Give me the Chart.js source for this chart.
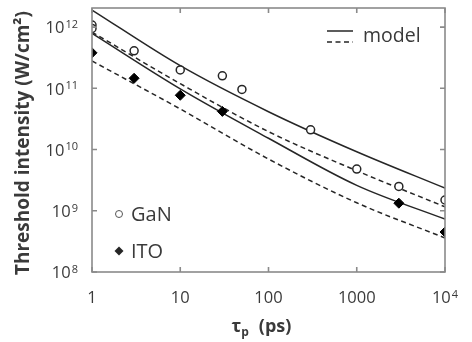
<!DOCTYPE html>
<html>
<head>
<meta charset="utf-8">
<script src="https://cdn.jsdelivr.net/npm/chart.js@4/dist/chart.umd.min.js"></script>
<style>
html,body{margin:0;padding:0;background:#fff;}
canvas{display:block;}
</style>
</head>
<body>
<canvas id="c" width="472" height="342"></canvas>
<script>
// ---- data ----
const tauGaN = [1, 1, 3, 10, 30, 50, 300, 1000, 3000, 10000];
const thrGaN = [1.08e12, 0.95e12, 4.1e11, 2.0e11, 1.6e11, 9.6e10, 2.1e10, 4.8e9, 2.5e9, 1.5e9];
const tauITO = [1, 3, 10, 30, 3000, 10000];
const thrITO = [3.8e11, 1.46e11, 7.7e10, 4.2e10, 1.33e9, 4.5e8];
const tauModel = [1, 10, 100, 1000, 10000];
const modelUpperSolid  = [1.9e12, 2.34e11, 4.15e10, 9.2e9, 2.34e9];
const modelUpperDashed = [8.3e11, 1.19e11, 1.96e10, 4.5e9, 1.16e9];
const modelLowerSolid  = [7.9e11, 9.8e10, 1.53e10, 2.6e9, 7.3e8];
const modelLowerDashed = [2.8e11, 4.6e10, 7.0e9, 1.35e9, 3.6e8];
const xTickValues = [1, 10, 100, 1000, 10000];
const xTickBase = ['1', '10', '100', '1000', '10'];
const xTickExp  = ['', '', '', '', '4'];
const yTickValues = [1e8, 1e9, 1e10, 1e11, 1e12];
const yTickBase = ['10', '10', '10', '10', '10'];
const yTickExp  = ['8', '9', '10', '11', '12'];
const xTitleMain = 'τ', xTitleSub = 'p', xTitleUnit = '(ps)';
const yTitle = 'Threshold intensity (W/cm²)';
const legendModel = 'model', legendGaN = 'GaN', legendITO = 'ITO';

const pts = (xs, ys) => xs.map((v, i) => ({x: v, y: ys[i]}));
const INK = '#262626';
const TXT = '#3a3a3a';
const FRAME = '#8a8a8a';
const FF = '"Open Sans", "DejaVu Sans", sans-serif';

function modelDs(vals, dashed) {
  return {
    data: pts(tauModel, vals), showLine: true, pointRadius: 0,
    borderColor: INK, borderWidth: 1.5, borderDash: dashed ? [5, 3.5] : [],
    cubicInterpolationMode: 'monotone', fill: false
  };
}

function drawPow(ctx, base, exp, x, yCenter, align, fs, efs) {
  ctx.font = fs + 'px ' + FF;
  const bw = ctx.measureText(base).width;
  ctx.font = efs + 'px ' + FF;
  const ew = exp ? ctx.measureText(exp).width + 1 : 0;
  const total = bw + ew;
  let x0 = align === 'right' ? x - total : x - total / 2;
  const baseLine = yCenter + fs * 0.357;
  ctx.textAlign = 'left';
  ctx.textBaseline = 'alphabetic';
  ctx.font = fs + 'px ' + FF;
  ctx.fillText(base, x0, baseLine);
  if (exp) {
    ctx.font = efs + 'px ' + FF;
    ctx.fillText(exp, x0 + bw + 1, baseLine - fs * 0.33);
  }
}

const decor = {
  id: 'decor',
  afterDraw(chart) {
    const ctx = chart.ctx;
    const {left, right, top, bottom} = chart.chartArea;
    const xs = chart.scales.x, ys = chart.scales.y;
    ctx.save();
    // frame
    ctx.strokeStyle = FRAME;
    ctx.lineWidth = 1.6;
    ctx.strokeRect(left, top, right - left, bottom - top);
    // inward ticks
    ctx.beginPath();
    xTickValues.forEach(v => {
      const px = xs.getPixelForValue(v);
      ctx.moveTo(px, bottom); ctx.lineTo(px, bottom - 5);
      ctx.moveTo(px, top); ctx.lineTo(px, top + 5);
    });
    yTickValues.forEach(v => {
      const py = ys.getPixelForValue(v);
      ctx.moveTo(left, py); ctx.lineTo(left + 5, py);
      ctx.moveTo(right, py); ctx.lineTo(right - 5, py);
    });
    ctx.stroke();
    // tick labels
    ctx.fillStyle = TXT;
    yTickValues.forEach((v, i) => {
      drawPow(ctx, yTickBase[i], yTickExp[i], left - 14, ys.getPixelForValue(v) + 0.5, 'right', 16.5, 11);
    });
    xTickValues.forEach((v, i) => {
      drawPow(ctx, xTickBase[i], xTickExp[i], xs.getPixelForValue(v), bottom + 25.5, 'center', 16.5, 11);
    });
    // y title
    ctx.save();
    ctx.translate(24, (top + bottom) / 2 + 3);
    ctx.rotate(-Math.PI / 2);
    ctx.font = 'bold 19px ' + FF;
    ctx.textAlign = 'center';
    ctx.textBaseline = 'middle';
    ctx.fillText(yTitle, 0, 0);
    ctx.restore();
    // x title
    const cx = (left + right) / 2 - 7;
    const base = bottom + 60;
    ctx.textBaseline = 'alphabetic';
    ctx.font = 'bold 18px ' + FF;
    const wMain = ctx.measureText(xTitleMain).width;
    const wUnit = ctx.measureText(xTitleUnit).width;
    ctx.font = 'bold 12px ' + FF;
    const wSub = ctx.measureText(xTitleSub).width;
    const gap = 10;
    let x0 = cx - (wMain + wSub + gap + wUnit) / 2;
    ctx.textAlign = 'left';
    ctx.font = 'bold 18px ' + FF;
    ctx.fillText(xTitleMain, x0, base);
    ctx.font = 'bold 12px ' + FF;
    ctx.fillText(xTitleSub, x0 + wMain, base + 4);
    ctx.font = 'bold 18px ' + FF;
    ctx.fillText(xTitleUnit, x0 + wMain + wSub + gap, base);
    // legend: model
    ctx.strokeStyle = INK;
    ctx.lineWidth = 1.5;
    ctx.beginPath();
    ctx.moveTo(right - 118, top + 23); ctx.lineTo(right - 92, top + 23);
    ctx.stroke();
    ctx.setLineDash([5, 3.5]);
    ctx.beginPath();
    ctx.moveTo(right - 118, top + 34); ctx.lineTo(right - 92, top + 34);
    ctx.stroke();
    ctx.setLineDash([]);
    ctx.fillStyle = TXT;
    ctx.font = '19.5px ' + FF;
    ctx.fillText(legendModel, right - 82, top + 33.5);
    // legend: GaN / ITO
    ctx.strokeStyle = '#555';
    ctx.lineWidth = 1;
    ctx.beginPath();
    ctx.arc(left + 27, bottom - 58, 3.5, 0, Math.PI * 2);
    ctx.stroke();
    ctx.fillStyle = INK;
    const dx = left + 27, dy = bottom - 21, r = 4.5;
    ctx.beginPath();
    ctx.moveTo(dx, dy - r); ctx.lineTo(dx + r, dy); ctx.lineTo(dx, dy + r); ctx.lineTo(dx - r, dy);
    ctx.closePath(); ctx.fill();
    ctx.fillStyle = TXT;
    ctx.font = '20px ' + FF;
    ctx.fillText(legendGaN, left + 39, bottom - 51);
    ctx.fillText(legendITO, left + 39, bottom - 14);
    ctx.restore();
  }
};

new Chart(document.getElementById('c'), {
  type: 'scatter',
  data: {
    datasets: [
      { data: pts(tauGaN, thrGaN), pointStyle: 'circle', pointRadius: 4, pointBorderWidth: 1.5,
        pointBorderColor: INK, pointBackgroundColor: '#ffffff', showLine: false },
      { data: pts(tauITO, thrITO), pointStyle: 'rectRot', pointRadius: 5, pointBorderWidth: 1,
        pointBorderColor: '#000', pointBackgroundColor: '#000', showLine: false },
      modelDs(modelUpperSolid, false),
      modelDs(modelUpperDashed, true),
      modelDs(modelLowerSolid, false),
      modelDs(modelLowerDashed, true)
    ]
  },
  options: {
    responsive: false,
    devicePixelRatio: 1,
    animation: false,
    events: [],
    layout: { padding: { left: 92, right: 27, top: 8, bottom: 70 } },
    plugins: { legend: { display: false }, tooltip: { enabled: false } },
    scales: {
      x: { type: 'logarithmic', min: 1, max: 10000, display: false },
      y: { type: 'logarithmic', min: 1e8, max: 2.05e12, display: false }
    }
  },
  plugins: [decor]
});
</script>
</body>
</html>
